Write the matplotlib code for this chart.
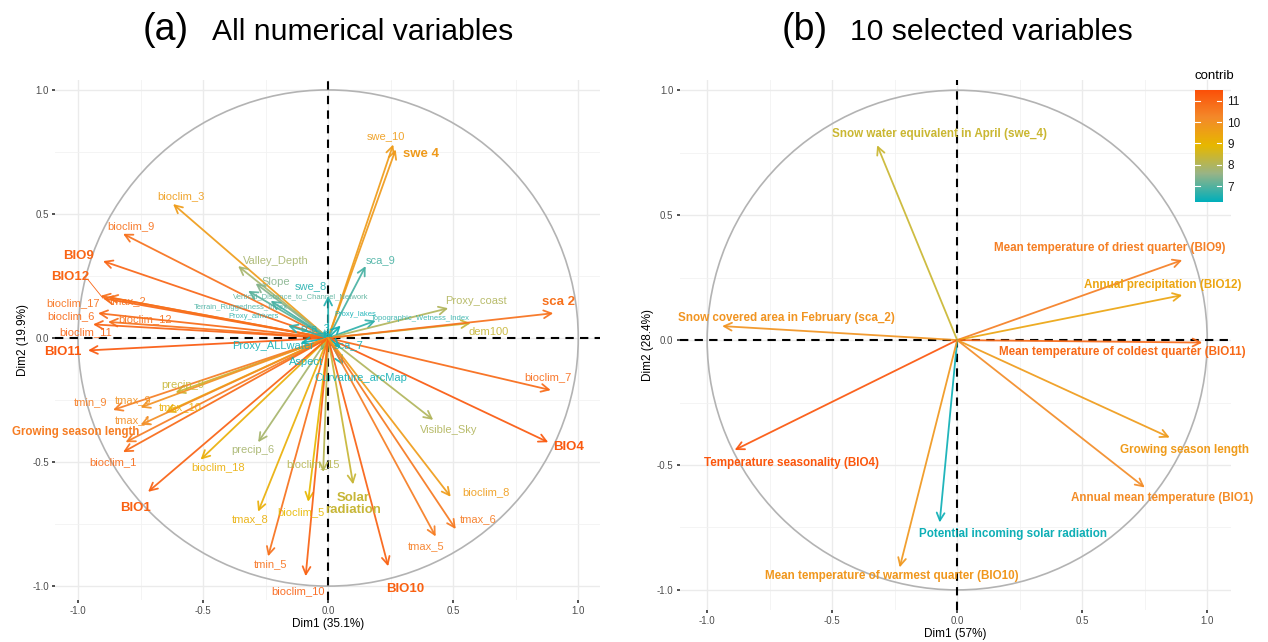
import numpy as np
import matplotlib
matplotlib.use('Agg')
import matplotlib.pyplot as plt
from matplotlib.colors import LinearSegmentedColormap, Normalize
from matplotlib.patches import Circle

plt.rcParams['font.family'] = ['Liberation Sans', 'DejaVu Sans']

# ---- panel (a): all numerical variables ----
names_a = ['BIO9', 'BIO12', 'bioclim_17', 'tmax_2', 'bioclim_6', 'bioclim_12', 'bioclim_11', 'BIO11',
           'bioclim_9', 'bioclim_3', 'swe_10', 'swe 4', 'Valley_Depth', 'Slope', 'swe_8',
           'Vertical_Distance_to_Channel_Network', 'Terrain_Ruggedness_Index', 'Proxy_allrivers',
           'sca_9', 'Proxy_lakes', 'Topographic_Wetness_Index', 'Proxy_coast', 'dem100', 'sca 2',
           'bioclim_7', 'BIO4', 'Visible_Sky', 'sca_7', 'Curvature_arcMap', 'Aspect', 'Proxy_ALLwater',
           'sca_3', 'precip_9', 'tmin_9', 'tmax_9', 'tmax_10', 'tmax_1', 'Growing season length',
           'bioclim_1', 'precip_6', 'bioclim_18', 'BIO1', 'bioclim_15', 'Solar\nradiation', 'tmax_8',
           'bioclim_5', 'tmin_5', 'bioclim_10', 'BIO10', 'tmax_5', 'tmax_6', 'bioclim_8']
dim1_a = [-0.90, -0.90, -0.91, -0.88, -0.92, -0.88, -0.94, -0.96,
          -0.82, -0.62, 0.26, 0.27, -0.36, -0.29, 0.00,
          -0.32, -0.23, -0.16,
          0.15, 0.05, 0.19, 0.48, 0.57, 0.90,
          0.89, 0.88, 0.42, 0.05, 0.06, -0.03, -0.11,
          -0.02, -0.61, -0.86, -0.75, -0.65, -0.75, -0.81,
          -0.82, -0.28, -0.51, -0.72, -0.02, 0.10, -0.28,
          -0.08, -0.24, -0.09, 0.24, 0.43, 0.51, 0.49]
dim2_a = [0.31, 0.16, 0.17, 0.165, 0.10, 0.065, 0.055, -0.05,
          0.42, 0.54, 0.78, 0.76, 0.29, 0.22, 0.17,
          0.19, 0.15, 0.05,
          0.29, 0.05, 0.07, 0.12, 0.06, 0.10,
          -0.21, -0.42, -0.33, -0.04, -0.11, -0.05, -0.02,
          0.03, -0.22, -0.29, -0.28, -0.30, -0.35, -0.42,
          -0.46, -0.42, -0.49, -0.62, -0.54, -0.59, -0.70,
          -0.66, -0.88, -0.96, -0.92, -0.80, -0.77, -0.64]
contrib_a = [0.90, 0.90, 0.85, 0.85, 0.88, 0.85, 0.90, 0.95,
             0.85, 0.65, 0.65, 0.66, 0.30, 0.22, 0.06,
             0.15, 0.12, 0.08,
             0.12, 0.03, 0.08, 0.33, 0.40, 0.85,
             0.88, 0.95, 0.33, 0.03, 0.03, 0.02, 0.03,
             0.04, 0.40, 0.80, 0.70, 0.55, 0.72, 0.80,
             0.88, 0.30, 0.55, 0.92, 0.35, 0.40, 0.55,
             0.50, 0.85, 0.92, 0.92, 0.80, 0.82, 0.65]
# label anchor positions (data units)
lab_x_a = [-1.00, -1.03, -1.02, -0.80, -1.03, -0.73, -0.97, -1.06,
           -0.79, -0.59, 0.23, 0.37, -0.21, -0.21, -0.07,
           -0.11, -0.35, -0.30,
           0.21, 0.11, 0.37, 0.59, 0.64, 0.92,
           0.88, 0.96, 0.48, 0.08, 0.13, -0.09, -0.22,
           -0.05, -0.58, -0.95, -0.78, -0.59, -0.78, -1.01,
           -0.86, -0.30, -0.44, -0.77, -0.06, 0.10, -0.31,
           -0.11, -0.23, -0.12, 0.31, 0.39, 0.60, 0.63]
lab_y_a = [0.33, 0.245, 0.14, 0.15, 0.09, 0.077, 0.024, -0.056,
           0.45, 0.57, 0.815, 0.74, 0.31, 0.225, 0.21,
           0.165, 0.125, 0.085,
           0.315, 0.095, 0.078, 0.15, 0.024, 0.145,
           -0.157, -0.44, -0.37, -0.03, -0.16, -0.097, -0.032,
           0.04, -0.19, -0.26, -0.25, -0.28, -0.33, -0.38,
           -0.50, -0.45, -0.52, -0.685, -0.51, -0.67, -0.73,
           -0.70, -0.91, -1.02, -1.01, -0.84, -0.73, -0.62]
bold_a = ['BIO9', 'BIO12', 'BIO11', 'swe 4', 'sca 2', 'BIO4',
          'BIO1', 'Solar\nradiation', 'BIO10']
tiny_a = ['Vertical_Distance_to_Channel_Network', 'Terrain_Ruggedness_Index', 'Proxy_allrivers',
          'Proxy_lakes', 'Topographic_Wetness_Index']

# ---- panel (b): 10 selected variables ----
names_b = ['Snow water equivalent in April (swe_4)', 'Snow covered area in February (sca_2)',
           'Mean temperature of driest quarter (BIO9)', 'Annual precipitation (BIO12)',
           'Mean temperature of coldest quarter (BIO11)', 'Growing season length',
           'Annual mean temperature (BIO1)', 'Temperature seasonality (BIO4)',
           'Potential incoming solar radiation', 'Mean temperature of warmest quarter (BIO10)']
dim1_b = [-0.32, -0.94, 0.90, 0.90, 0.98, 0.85, 0.75, -0.89, -0.07, -0.23]
dim2_b = [0.78, 0.056, 0.32, 0.18, -0.01, -0.39, -0.59, -0.44, -0.73, -0.91]
contrib_b = [8.4, 9.9, 10.4, 9.4, 10.9, 9.7, 10.1, 11.3, 6.4, 9.8]
lab_x_b = [-0.072, -0.684, 0.612, 0.824, 0.66, 0.908, 0.82, -0.664, 0.224, -0.26]
lab_y_b = [0.824, 0.088, 0.368, 0.22, -0.048, -0.44, -0.632, -0.492, -0.776, -0.944]
contrib_ticks = [7, 8, 9, 10, 11]

# ggplot-like gradient (Lab-ish interpolation gives greyer middle tones)
cmap = LinearSegmentedColormap.from_list(
    'contrib', [(0.0, '#00AFBB'), (0.25, '#98B487'), (0.5, '#E7B800'),
                (0.75, '#F4892A'), (1.0, '#FC4E07')])

fig = plt.figure(figsize=(12.68, 6.42), dpi=100)


def base_axes(rect, xlim, ylim, xlabel, ylabel):
    ax = fig.add_axes(rect)
    ax.set_xlim(*xlim)
    ax.set_ylim(*ylim)
    for s in ax.spines.values():
        s.set_visible(False)
    ax.set_xticks([-1.0, -0.5, 0.0, 0.5, 1.0])
    ax.set_yticks([-1.0, -0.5, 0.0, 0.5, 1.0])
    ax.set_xticks([-0.75, -0.25, 0.25, 0.75], minor=True)
    ax.set_yticks([-0.75, -0.25, 0.25, 0.75], minor=True)
    ax.set_xticklabels(['-1.0', '-0.5', '0.0', '0.5', '1.0'])
    ax.set_yticklabels(['-1.0', '-0.5', '0.0', '0.5', '1.0'])
    ax.grid(which='major', color='#EBEBEB', lw=1.0)
    ax.grid(which='minor', color='#F2F2F2', lw=0.6)
    ax.tick_params(which='major', length=2.5, width=1.2, color='#333333',
                   labelcolor='#4D4D4D', labelsize=7, pad=2)
    ax.tick_params(which='minor', length=0)
    ax.set_axisbelow(True)
    ax.set_xlabel(xlabel, fontsize=8.5, labelpad=1)
    ax.set_ylabel(ylabel, fontsize=8.5, labelpad=2)
    ax.add_patch(Circle((0, 0), 1.0, fill=False, ec='#B3B3B3', lw=1.2, zorder=1))
    ax.axhline(0, color='black', ls=(0, (4, 3)), lw=1.5, zorder=2)
    ax.axvline(0, color='black', ls=(0, (4, 3)), lw=1.5, zorder=2)
    return ax


def arrow(ax, x, y, col, lw=1.2):
    ax.annotate('', xy=(x, y), xytext=(0, 0), zorder=3,
                arrowprops=dict(arrowstyle='->,head_length=0.55,head_width=0.28',
                                color=col, lw=lw, shrinkA=0, shrinkB=0, alpha=0.92))


# panel (a)
ax1 = base_axes([0.0434, 0.0654, 0.430, 0.810], (-1.092, 1.088), (-1.056, 1.04),
                'Dim1 (35.1%)', 'Dim2 (19.9%)')
norm_a = Normalize(0, 1)
for i, n in enumerate(names_a):
    col = cmap(norm_a(contrib_a[i]))
    arrow(ax1, dim1_a[i], dim2_a[i], col, lw=1.3)
for i, n in enumerate(names_a):
    col = cmap(norm_a(contrib_a[i]))
    if n in bold_a:
        fs, fw = 9.5, 'bold'
    elif n == 'Growing season length':
        fs, fw = 8.3, 'bold'
    elif n in tiny_a:
        fs, fw = 5.5, 'normal'
    else:
        fs, fw = 8, 'normal'
    ax1.text(lab_x_a[i], lab_y_a[i], n, color=col, fontsize=fs, fontweight=fw,
             ha='center', va='center', alpha=0.9 if fw == 'normal' else 1, zorder=4,
             linespacing=1.0)
# repel segment for BIO12
i12 = names_a.index('BIO12')
ax1.plot([lab_x_a[i12] + 0.07, dim1_a[i12]], [lab_y_a[i12] - 0.01, dim2_a[i12]],
         color=cmap(norm_a(contrib_a[i12])), lw=0.6, zorder=3)

# panel (b)
ax2 = base_axes([0.536, 0.050, 0.435, 0.825], (-1.11, 1.096), (-1.08, 1.04),
                'Dim1 (57%)', 'Dim2 (28.4%)')
vmin_b, vmax_b = 6.27, 11.5
norm_b = Normalize(vmin_b, vmax_b)
for i, n in enumerate(names_b):
    col = cmap(norm_b(contrib_b[i]))
    arrow(ax2, dim1_b[i], dim2_b[i], col, lw=1.3)
    ax2.text(lab_x_b[i], lab_y_b[i], n, color=col, fontsize=8.4, fontweight='bold',
             ha='center', va='center', zorder=4)

# colorbar
cax = fig.add_axes([0.9424, 0.6854, 0.0213, 0.1745])
grad = np.linspace(vmin_b, vmax_b, 256).reshape(-1, 1)
cax.imshow(grad, aspect='auto', cmap=cmap, norm=norm_b, origin='lower',
           extent=(0, 1, vmin_b, vmax_b))
cax.set_xlim(0, 1)
cax.set_ylim(vmin_b, vmax_b)
cax.set_xticks([])
cax.yaxis.tick_right()
cax.set_yticks(contrib_ticks)
cax.tick_params(axis='y', length=0, labelsize=8.5, labelcolor='#1A1A1A', pad=4)
for t in contrib_ticks:
    cax.plot([0, 0.2], [t, t], color='white', lw=0.8)
    cax.plot([0.8, 1], [t, t], color='white', lw=0.8)
for s in cax.spines.values():
    s.set_visible(False)
fig.text(0.9424, 0.872, 'contrib', fontsize=9.5, ha='left', va='bottom')

# titles
fig.text(143 / 1268, 0.953, '(a)', fontsize=27, ha='left', va='center')
fig.text(212 / 1268, 0.950, 'All numerical variables', fontsize=21.7, ha='left', va='center')
fig.text(782 / 1268, 0.953, '(b)', fontsize=27, ha='left', va='center')
fig.text(850 / 1268, 0.950, '10 selected variables', fontsize=21.7, ha='left', va='center')

fig.savefig('out.png', dpi=100)
